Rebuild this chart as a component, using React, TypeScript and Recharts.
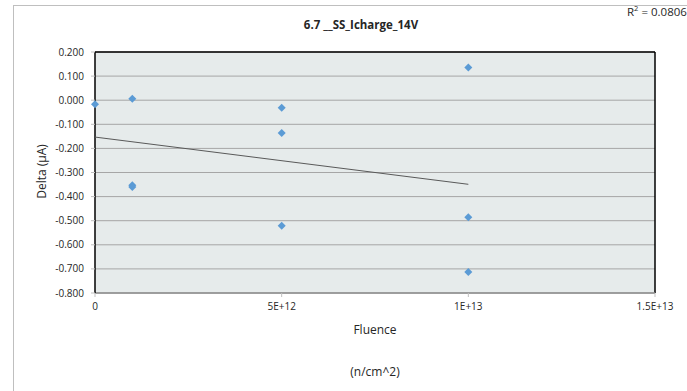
import {
  ScatterChart,
  Scatter,
  XAxis,
  YAxis,
  CartesianGrid,
  ReferenceLine,
} from "recharts";

// fluence (n/cm^2) and delta (µA)
const fluence = [0, 1e12, 1e12, 1e12, 5e12, 5e12, 5e12, 1e13, 1e13, 1e13];
const delta = [-0.017, 0.006, -0.353, -0.36, -0.031, -0.136, -0.521, 0.136, -0.486, -0.713];

// linear trendline ends as drawn
const trendX = [0, 1e13];
const trendY = [-0.153, -0.349];

const xTicks = [0, 5e12, 1e13, 1.5e13];
const xTickLabels = ["0", "5E+12", "1E+13", "1.5E+13"];
const yTicks = [0.2, 0.1, 0, -0.1, -0.2, -0.3, -0.4, -0.5, -0.6, -0.7, -0.8];

const points = fluence.map((x, i) => ({ x, y: delta[i] }));
const trend = trendX.map((x, i) => ({ x, y: trendY[i] }));

const font = "'Open Sans', sans-serif";

const Diamond = (props: any) => {
  const { cx, cy } = props;
  if (cx == null || cy == null) return <g />;
  const r = 4;
  return (
    <polygon
      points={`${cx},${cy - r} ${cx + r},${cy} ${cx},${cy + r} ${cx - r},${cy}`}
      fill="#5b9bd5"
    />
  );
};

export default function App() {
  return (
    <div
      style={{
        position: "absolute",
        left: 0,
        top: 0,
        width: 687,
        height: 391,
        overflow: "hidden",
        background: "#fff",
        fontFamily: font,
      }}
    >
      {/* outer chart frame, runs off the right and bottom */}
      <div
        style={{
          position: "absolute",
          left: 13,
          top: 5,
          width: 720,
          height: 420,
          border: "1px solid #bfbfbf",
        }}
      />
      <ScatterChart
        width={687}
        height={391}
        margin={{ top: 52, right: 32, bottom: 68, left: 0 }}
        style={{ position: "absolute", left: 0, top: 0 }}
      >
        <CartesianGrid vertical={false} stroke="#a6a6a6" fill="#e6ebeb" fillOpacity={1} />
        <XAxis
          type="number"
          dataKey="x"
          domain={[0, 1.5e13]}
          ticks={xTicks}
          tickFormatter={(v: number) => xTickLabels[xTicks.indexOf(v)] ?? String(v)}
          axisLine={{ stroke: "#8c8c8c", strokeWidth: 1.5 }}
          tickLine={{ stroke: "#bfbfbf" }}
          tickSize={4}
          tickMargin={6}
          height={30}
          tick={{ fill: "#262626", fontSize: 10, fontFamily: font }}
        />
        <YAxis
          type="number"
          dataKey="y"
          domain={[-0.8, 0.2]}
          ticks={yTicks}
          tickFormatter={(v: number) => v.toFixed(3)}
          axisLine={{ stroke: "#000", strokeWidth: 1.5 }}
          tickLine={{ stroke: "#bfbfbf" }}
          tickSize={4}
          tickMargin={7}
          width={95}
          tick={{ fill: "#262626", fontSize: 10, fontFamily: font }}
        />
        <ReferenceLine y={0.2} stroke="#000" strokeWidth={1.5} />
        <ReferenceLine x={1.5e13} stroke="#000" strokeWidth={1.5} />
        <Scatter
          data={trend}
          line={{ stroke: "#595959", strokeWidth: 1 }}
          shape={() => <g />}
          isAnimationActive={false}
        />
        <Scatter data={points} shape={Diamond} isAnimationActive={false} />
      </ScatterChart>

      <div
        style={{
          position: "absolute",
          left: 261,
          width: 200,
          top: 17,
          textAlign: "center",
          fontSize: 11.5,
          fontWeight: "bold",
          color: "#262626",
        }}
      >
        6.7 __SS_Icharge_14V
      </div>
      <div
        style={{
          position: "absolute",
          left: 627,
          top: 3,
          fontSize: 11.5,
          color: "#262626",
          whiteSpace: "nowrap",
        }}
      >
        R<sup style={{ fontSize: 7.5 }}>2</sup> = 0.0806
      </div>
      <div
        style={{
          position: "absolute",
          left: -9,
          top: 163,
          width: 100,
          textAlign: "center",
          fontSize: 12,
          color: "#262626",
          transform: "rotate(-90deg)",
        }}
      >
        Delta (µA)
      </div>
      <div
        style={{
          position: "absolute",
          left: 325,
          width: 100,
          top: 321,
          textAlign: "center",
          fontSize: 12,
          color: "#262626",
        }}
      >
        Fluence
      </div>
      <div
        style={{
          position: "absolute",
          left: 325,
          width: 100,
          top: 363,
          textAlign: "center",
          fontSize: 12,
          color: "#262626",
        }}
      >
        (n/cm^2)
      </div>
    </div>
  );
}
